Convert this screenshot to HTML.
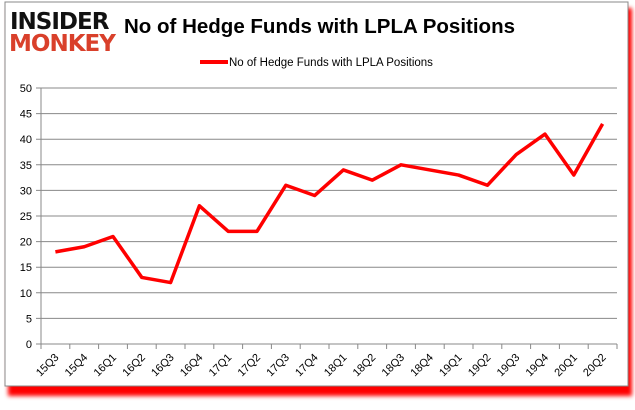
<!DOCTYPE html>
<html><head><meta charset="utf-8"><style>
body{margin:0;background:#fff;width:635px;height:405px;overflow:hidden;font-family:"Liberation Sans",sans-serif}
</style></head><body>
<svg width="635" height="405" xmlns="http://www.w3.org/2000/svg">
<defs><filter id="sh" x="-5%" y="-5%" width="110%" height="115%"><feGaussianBlur stdDeviation="2"/></filter></defs>
<rect x="8" y="8" width="624" height="388" fill="#ff0000" filter="url(#sh)"/>
<rect x="5" y="2" width="623" height="384" fill="#fff" stroke="#888" stroke-width="1"/>
<g>
<text x="10" y="29" font-size="23" font-weight="bold" fill="#111" font-family="DejaVu Sans, sans-serif" letter-spacing="-1">INSIDER</text>
<text x="9" y="51" font-size="23" font-weight="bold" fill="#d9402b" font-family="DejaVu Sans, sans-serif" letter-spacing="-1">MONKEY</text>
</g>
<text x="124" y="33" font-size="20.5" font-weight="bold" fill="#000">No of Hedge Funds with LPLA Positions</text>
<g>
<line x1="200" y1="62" x2="228" y2="62" stroke="#ff0000" stroke-width="4"/>
<text x="229" y="66" font-size="11.5" fill="#000">No of Hedge Funds with LPLA Positions</text>
</g>
<g id="grid"></g><g id="axes"></g><g id="series"></g>
</svg>
<script>
const categories=["15Q3","15Q4","16Q1","16Q2","16Q3","16Q4","17Q1","17Q2","17Q3","17Q4","18Q1","18Q2","18Q3","18Q4","19Q1","19Q2","19Q3","19Q4","20Q1","20Q2"];
const values=[18,19,21,13,12,27,22,22,31,29,34,32,35,34,33,31,37,41,33,43];
const yTicks=[0,5,10,15,20,25,30,35,40,45,50];
const NS="http://www.w3.org/2000/svg";
const L=41,R=617,T=88,B=344;
const step=(R-L)/categories.length;
const x=i=>L+step*(i+0.5);
const y=v=>B-(v/50)*(B-T);
function mk(t,a,p){const e=document.createElementNS(NS,t);for(const k in a)e.setAttribute(k,a[k]);p.appendChild(e);return e;}
const grid=document.getElementById('grid'),axes=document.getElementById('axes'),series=document.getElementById('series');
yTicks.forEach(v=>{
 const l=mk('line',{x1:L-5,x2:R,y1:y(v),y2:y(v),stroke:'#888','stroke-width':1},grid);
 
 
 const t=mk('text',{x:L-9,y:y(v)+4,'font-size':11,'text-anchor':'end',fill:'#000'},axes);
 t.textContent=v;
 
 
});
const ax=mk('line',{x1:L,x2:L,y1:T,y2:B,stroke:'#888'},axes);


for(let i=0;i<=categories.length;i++){
 const tk=mk('line',{x1:L+step*i,x2:L+step*i,y1:B,y2:B+5,stroke:'#888'},axes);
 
 
}
categories.forEach((c,i)=>{
 const t=mk('text',{x:x(i)+4,y:B+14,'font-size':11,'text-anchor':'end',fill:'#000',transform:`rotate(-45 ${x(i)+4} ${B+14})`},axes);
 t.textContent=c;
 
 
});
const p=mk('polyline',{points:values.map((v,i)=>x(i)+','+y(v)).join(' '),fill:'none',stroke:'#ff0000','stroke-width':3.5,'stroke-linejoin':'round'},series);


</script>
</body></html>
